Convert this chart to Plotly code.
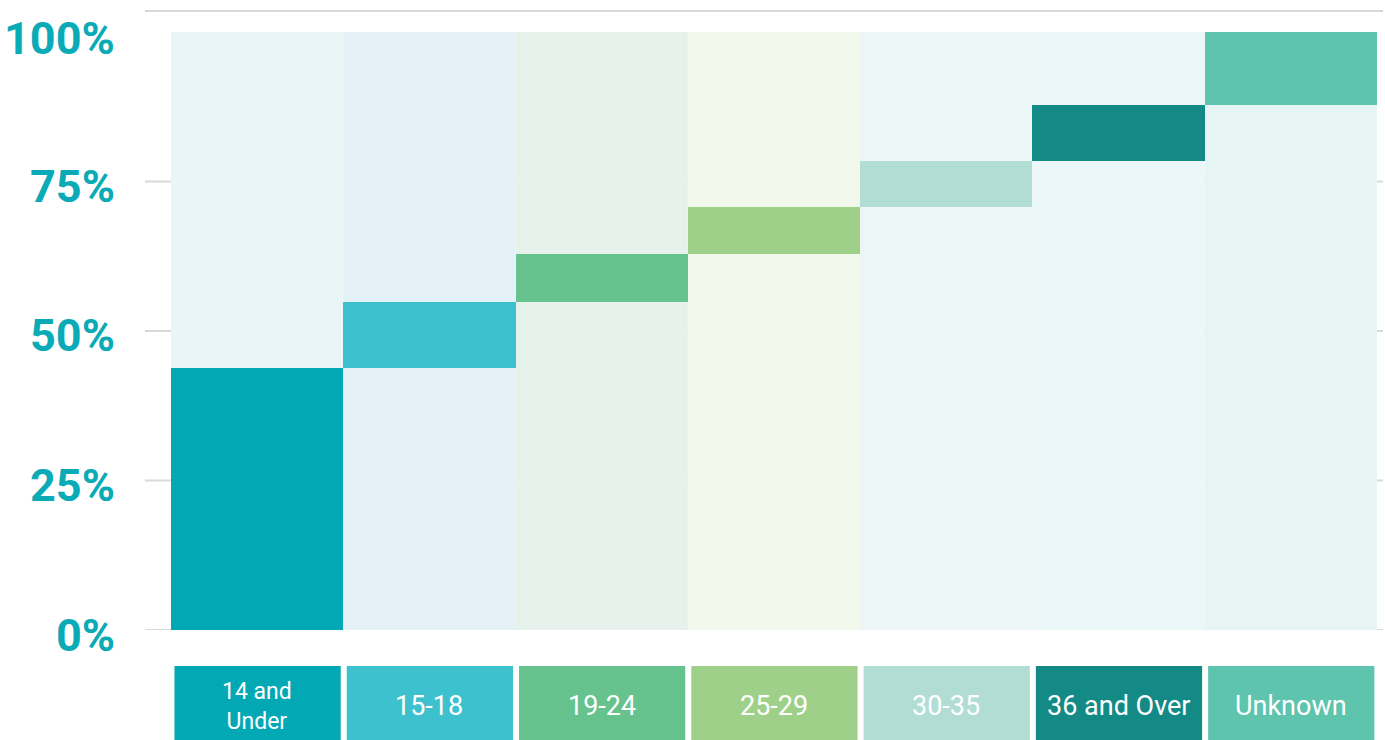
import plotly.graph_objects as go

# Age groups and their share (%) of the total
categories = ["14 and<br>Under", "15-18", "19-24", "25-29", "30-35", "36 and Over", "Unknown"]
shares = [43.8, 11.0, 8.0, 7.9, 7.7, 9.4, 12.2]
bar_colors = ["#02A9B5", "#3EC1CE", "#66C38D", "#9FD08A", "#B2DDD4", "#138A85", "#5EC4AD"]
bg_colors = ["#E9F5F7", "#E4F2F8", "#E5F1EA", "#F3F8EC", "#EDF6F6", "#ECF7F9", "#E7F4F4"]
y_ticks = [0, 25, 50, 75, 100]
y_labels = ["0%", "25%", "50%", "75%", "100%"]

FONT = "Roboto, Arial, sans-serif"
GRID = "#D9D9D9"

# running total -> base of each floating bar
bases = []
total = 0
for s in shares:
    bases.append(total)
    total += s

xs = list(range(len(categories)))

fig = go.Figure()
fig.add_trace(
    go.Bar(
        x=xs,
        y=shares,
        base=bases,
        width=1,
        marker=dict(color=bar_colors, line=dict(width=0)),
        hoverinfo="skip",
    )
)

shapes = []
annotations = []
for i, (lab, bg, col) in enumerate(zip(categories, bg_colors, bar_colors)):
    # pale full-height column behind each bar
    shapes.append(dict(type="rect", layer="below", xref="x", yref="y",
                       x0=i - 0.5, x1=i + 0.5, y0=0, y1=100,
                       fillcolor=bg, line=dict(width=0)))
    # coloured label box under the axis
    shapes.append(dict(type="rect", layer="above", xref="x", yref="paper",
                       x0=i - 0.48, x1=i + 0.485, y0=-0.25, y1=-0.058,
                       fillcolor=col, line=dict(width=0)))
    two_line = "<br>" in lab
    annotations.append(dict(x=i, y=-0.123, xref="x", yref="paper", text=lab,
                            showarrow=False, yanchor="middle", xanchor="center",
                            font=dict(family=FONT, size=23 if two_line else 27,
                                      color="white")))

# y tick labels, sitting a little below their gridlines
for t, lab in zip(y_ticks, y_labels):
    annotations.append(dict(x=0, y=t, xref="paper", yref="y", text=lab,
                            showarrow=False, xanchor="right", yanchor="middle",
                            xshift=-28, yshift=-5 if t < 100 else -7,
                            font=dict(family=FONT, size=45, color="#0AABB6",
                                      weight="bold")))

# gridlines over the pale columns (the 100% one is hidden by the columns' top)
for t in y_ticks[:-1]:
    shapes.append(dict(type="line", layer="below", xref="paper", yref="y",
                       x0=0, x1=1, y0=t, y1=t, line=dict(color=GRID, width=2)))
# top rule
shapes.append(dict(type="line", layer="below", xref="paper", yref="paper",
                   x0=0, x1=1, y0=1, y1=1, line=dict(color=GRID, width=2)))

fig.update_layout(
    width=1385,
    height=740,
    margin=dict(l=145, r=2, t=11, b=110),
    paper_bgcolor="white",
    plot_bgcolor="white",
    showlegend=False,
    bargap=0,
    shapes=shapes,
    annotations=annotations,
)

fig.update_xaxes(range=[-0.651, 6.535], showgrid=False, showticklabels=False,
                 zeroline=False, fixedrange=True, automargin=False)
fig.update_yaxes(range=[0, 103.5], showgrid=False, zeroline=False,
                 showticklabels=False, ticks="", automargin=False, fixedrange=True)

# drop the page's default body margin so the figure sits at the top-left corner
fig.write_html("out.html", config={"displayModeBar": False},
               post_script="document.body.style.margin='0';")
